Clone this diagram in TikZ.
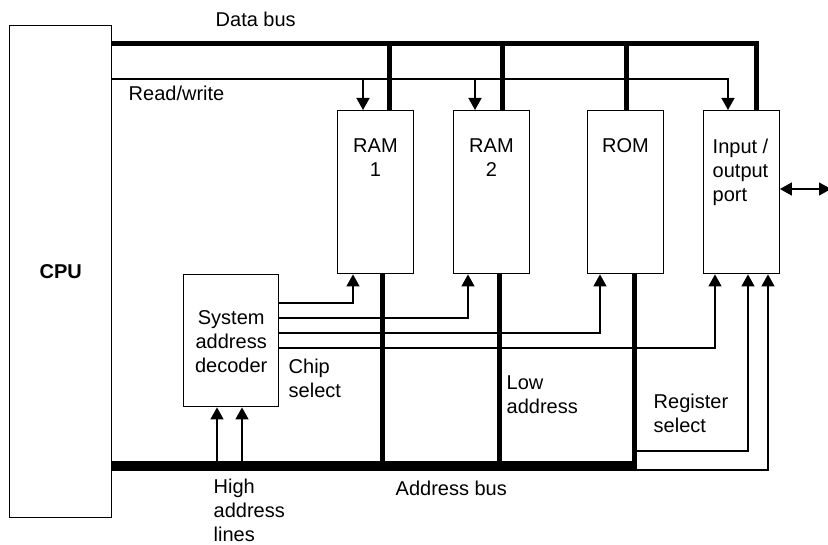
\documentclass[tikz,border=0pt]{standalone}
\usepackage{fontspec}
\setmainfont{Liberation Sans}
\usetikzlibrary{arrows.meta}
\begin{document}
\begin{tikzpicture}[x=1pt,y=-1pt,>={Triangle[length=12pt,width=13pt]},line width=1.4pt,
  box/.style={draw,anchor=north west,inner sep=0pt,minimum width=75.5pt,minimum height=163pt},
  txt/.style={inner sep=0pt,font=\fontsize{20}{24}\selectfont,align=left,anchor=north west},
  bus/.style={line width=5pt},
  abus/.style={line width=10pt}]
\useasboundingbox (0,0) rectangle (828,545);
% blocks
\node[box,minimum width=102pt,minimum height=492pt] (cpu) at (9,25) {};
\node[font=\fontsize{20}{24}\selectfont\bfseries] at (cpu.center) {CPU};
\node[box] (ram1) at (337,110) {};
\node[box] (ram2) at (453,110) {};
\node[box] (rom) at (587,110) {};
\node[box] (io) at (703,110) {};
\node[box,minimum width=95pt,minimum height=132pt] (dec) at (183,274) {};
\node[txt,anchor=north,align=center] at ([yshift=-28pt]ram1.north) {RAM\\1};
\node[txt,anchor=north,align=center] at ([yshift=-28pt]ram2.north) {RAM\\2};
\node[txt,anchor=north,align=center] at ([yshift=-28pt]rom.north) {ROM};
\node[txt] at (712,138) {Input /\\output\\port};
\node[txt,anchor=north,align=center] at ([yshift=-36pt]dec.north) {System\\address\\decoder};
% labels
\node[txt] at (215,11) {Data bus};
\node[txt] at (128,85) {Read/write};
\node[txt] at (288,358) {Chip\\select};
\node[txt] at (506,375) {Low\\address};
\node[txt] at (653,393) {Register\\select};
\node[txt] at (395,480) {Address bus};
\node[txt] at (213,478) {High\\address\\lines};
% data bus
\coordinate (dio) at (756,44);
\draw[bus] (cpu.east |- dio) -- (dio) -- (dio |- io.north);
\foreach \x/\n in {389/ram1,502/ram2,626/rom}
  \draw[bus] (\x,44) -- (\x,0 |- \n.north);
% read/write
\coordinate (rw) at (728,79);
\draw[->] (cpu.east |- rw) -- (rw) -- (rw |- io.north);
\foreach \x/\n in {363/ram1,475/ram2}
  \draw[->] (\x,79) -- (\x,0 |- \n.north);
% address bus
\coordinate (ab) at (636.5,466);
\draw[abus] (cpu.east |- ab) -- (ab);
\foreach \x/\n in {382/ram1,499/ram2,634/rom}
  \draw[bus] (\x,466) -- (\x,0 |- \n.south);
\foreach \x in {217,242}
  \draw[->] (\x,466) -- (\x,0 |- dec.south);
% chip select
\foreach \y/\x/\n in {303/353/ram1,318/468/ram2,333/600/rom,348/715/io}
  \draw[->] (dec.east |- 0,\y) -| (\x,0 |- \n.south);
% register select
\draw[->] (ab |- 0,451) -| (748,0 |- io.south);
\draw[->] (ab |- 0,470) -| (768,0 |- io.south);
% port
\draw[<->] (io.east |- 0,189) -- (831,189);
\end{tikzpicture}
\end{document}
